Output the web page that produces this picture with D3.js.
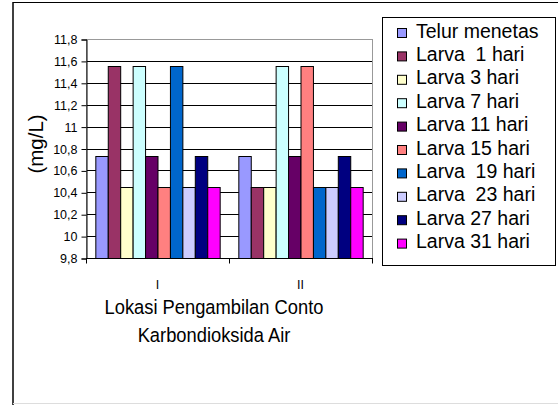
<!DOCTYPE html>
<html>
<head>
<meta charset="utf-8">
<script src="https://cdn.jsdelivr.net/npm/d3@7"></script>
<style>
  body { margin: 0; background: #fff; }
  text { font-family: Arial, "Liberation Sans", sans-serif; fill: #000; white-space: pre; }
</style>
</head>
<body>
<script>
// data
const locations = ["I", "II"];
const series = ["Telur menetas", "Larva  1 hari", "Larva 3 hari", "Larva 7 hari", "Larva 11 hari",
  "Larva 15 hari", "Larva  19 hari", "Larva  23 hari", "Larva 27 hari", "Larva 31 hari"];
const valuesI = [10.73, 11.55, 10.45, 11.55, 10.73, 10.45, 11.55, 10.45, 10.73, 10.45];
const valuesII = [10.73, 10.45, 10.45, 11.55, 10.73, 11.55, 10.45, 10.45, 10.73, 10.45];
const yTicks = [9.8, 10, 10.2, 10.4, 10.6, 10.8, 11, 11.2, 11.4, 11.6, 11.8];
const colors = ["#9999FF", "#993366", "#FFFFCC", "#CCFFFF", "#660066",
  "#FF8080", "#0066CC", "#CCCCFF", "#000080", "#FF00FF"];

const W = 558, H = 405;
const plot = { left: 86, right: 372, top: 39, bottom: 258 };

const svg = d3.select("body").append("svg")
  .attr("width", W)
  .attr("height", H);

// chart border
svg.append("line").attr("x1", 13).attr("x2", 13).attr("y1", 2).attr("y2", H)
  .attr("stroke", "#000").attr("stroke-width", 1.5);
svg.append("line").attr("x1", 13).attr("x2", W).attr("y1", 2.5).attr("y2", 2.5)
  .attr("stroke", "#000");
svg.append("line").attr("x1", 13).attr("x2", W).attr("y1", 403.5).attr("y2", 403.5)
  .attr("stroke", "#ddd");

const x0 = d3.scaleBand()
  .domain(locations)
  .range([plot.left, plot.right])
  .paddingInner(0)
  .paddingOuter(0);

// Excel gap width 150% : bars fill 10/11.5 of each category
const inner = x0.bandwidth() * 10 / 11.5;
const x1 = d3.scaleBand()
  .domain(series)
  .range([(x0.bandwidth() - inner) / 2, (x0.bandwidth() + inner) / 2]);

const y = d3.scaleLinear()
  .domain([9.8, 11.8])
  .range([plot.bottom, plot.top]);

const fmt = d => String(+d.toFixed(1)).replace(".", ",");

// gridlines
svg.append("g")
  .selectAll("line")
  .data(yTicks.filter(t => t > 9.8 && t < 11.8))
  .enter()
  .append("line")
  .attr("x1", plot.left).attr("x2", plot.right)
  .attr("y1", d => Math.round(y(d)) + 0.5).attr("y2", d => Math.round(y(d)) + 0.5)
  .attr("stroke", "#000");

// plot area border (gray)
svg.append("rect")
  .attr("x", plot.left + 0.5).attr("y", plot.top + 0.5)
  .attr("width", plot.right - plot.left).attr("height", plot.bottom - plot.top)
  .attr("fill", "none").attr("stroke", "#999");

// bars
const data = locations.map((loc, i) => ({ loc: loc, vals: i == 0 ? valuesI : valuesII }));
svg.append("g")
  .selectAll("g")
  .data(data)
  .enter()
  .append("g")
  .attr("transform", d => "translate(" + x0(d.loc) + ",0)")
  .selectAll("rect")
  .data(d => d.vals.map((v, i) => ({ name: series[i], value: v, color: colors[i] })))
  .enter()
  .append("rect")
  .attr("x", d => x1(d.name) + 0.5)
  .attr("y", d => Math.round(y(d.value)) + 0.5)
  .attr("width", x1.bandwidth())
  .attr("height", d => plot.bottom - Math.round(y(d.value)))
  .attr("fill", d => d.color)
  .attr("stroke", "#000")
  .attr("stroke-width", 1);

// y axis
const yAxis = svg.append("g")
  .attr("transform", "translate(" + (plot.left + 0.5) + ",0.5)")
  .call(d3.axisLeft(y).tickValues(yTicks).tickFormat(fmt).tickSize(5).tickPadding(4));
yAxis.selectAll("text").style("font-size", "12.5px").style("font-family", "Arial, 'Liberation Sans', sans-serif");
yAxis.selectAll("line, path").attr("stroke", "#000");

// x axis
const xAxis = svg.append("g")
  .attr("transform", "translate(0," + (plot.bottom + 0.5) + ")");
xAxis.append("line").attr("x1", plot.left).attr("x2", plot.right + 1)
  .attr("stroke", "#000");
xAxis.selectAll("line.tick")
  .data([plot.left, x0("II"), plot.right])
  .enter()
  .append("line")
  .attr("class", "tick")
  .attr("x1", d => d + 0.5).attr("x2", d => d + 0.5)
  .attr("y1", 0).attr("y2", 5)
  .attr("stroke", "#000");
xAxis.selectAll("text")
  .data(locations)
  .enter()
  .append("text")
  .attr("x", d => x0(d) + x0.bandwidth() / 2)
  .attr("y", 30)
  .attr("text-anchor", "middle")
  .style("font-size", "12.5px")
  .text(d => d);

// axis titles (slightly condensed like the original)
svg.append("text")
  .attr("transform", "translate(214,314) scale(0.94,1)")
  .attr("text-anchor", "middle")
  .style("font-size", "19.5px")
  .text("Lokasi Pengambilan Conto");
svg.append("text")
  .attr("transform", "translate(214,342) scale(0.94,1)")
  .attr("text-anchor", "middle")
  .style("font-size", "19.5px")
  .text("Karbondioksida Air");
svg.append("text")
  .attr("transform", "translate(43,144) rotate(-90)")
  .attr("text-anchor", "middle")
  .style("font-size", "20.5px")
  .text("(mg/L)");

// legend
const lg = svg.append("g");
lg.append("rect")
  .attr("x", 382.5).attr("y", 17.5)
  .attr("width", 173).attr("height", 248)
  .attr("fill", "#fff").attr("stroke", "#000");
const item = lg.selectAll("g.item")
  .data(series)
  .enter()
  .append("g")
  .attr("class", "item")
  .attr("transform", (d, i) => "translate(0," + (33 + i * 23.4) + ")");
item.append("rect")
  .attr("x", 397.5).attr("y", -4.5)
  .attr("width", 9).attr("height", 9)
  .attr("fill", (d, i) => colors[i])
  .attr("stroke", "#000");
item.append("text")
  .attr("x", 416).attr("y", 4.5)
  .style("font-size", "19.5px")
  .text(d => d);
</script>
</body>
</html>
